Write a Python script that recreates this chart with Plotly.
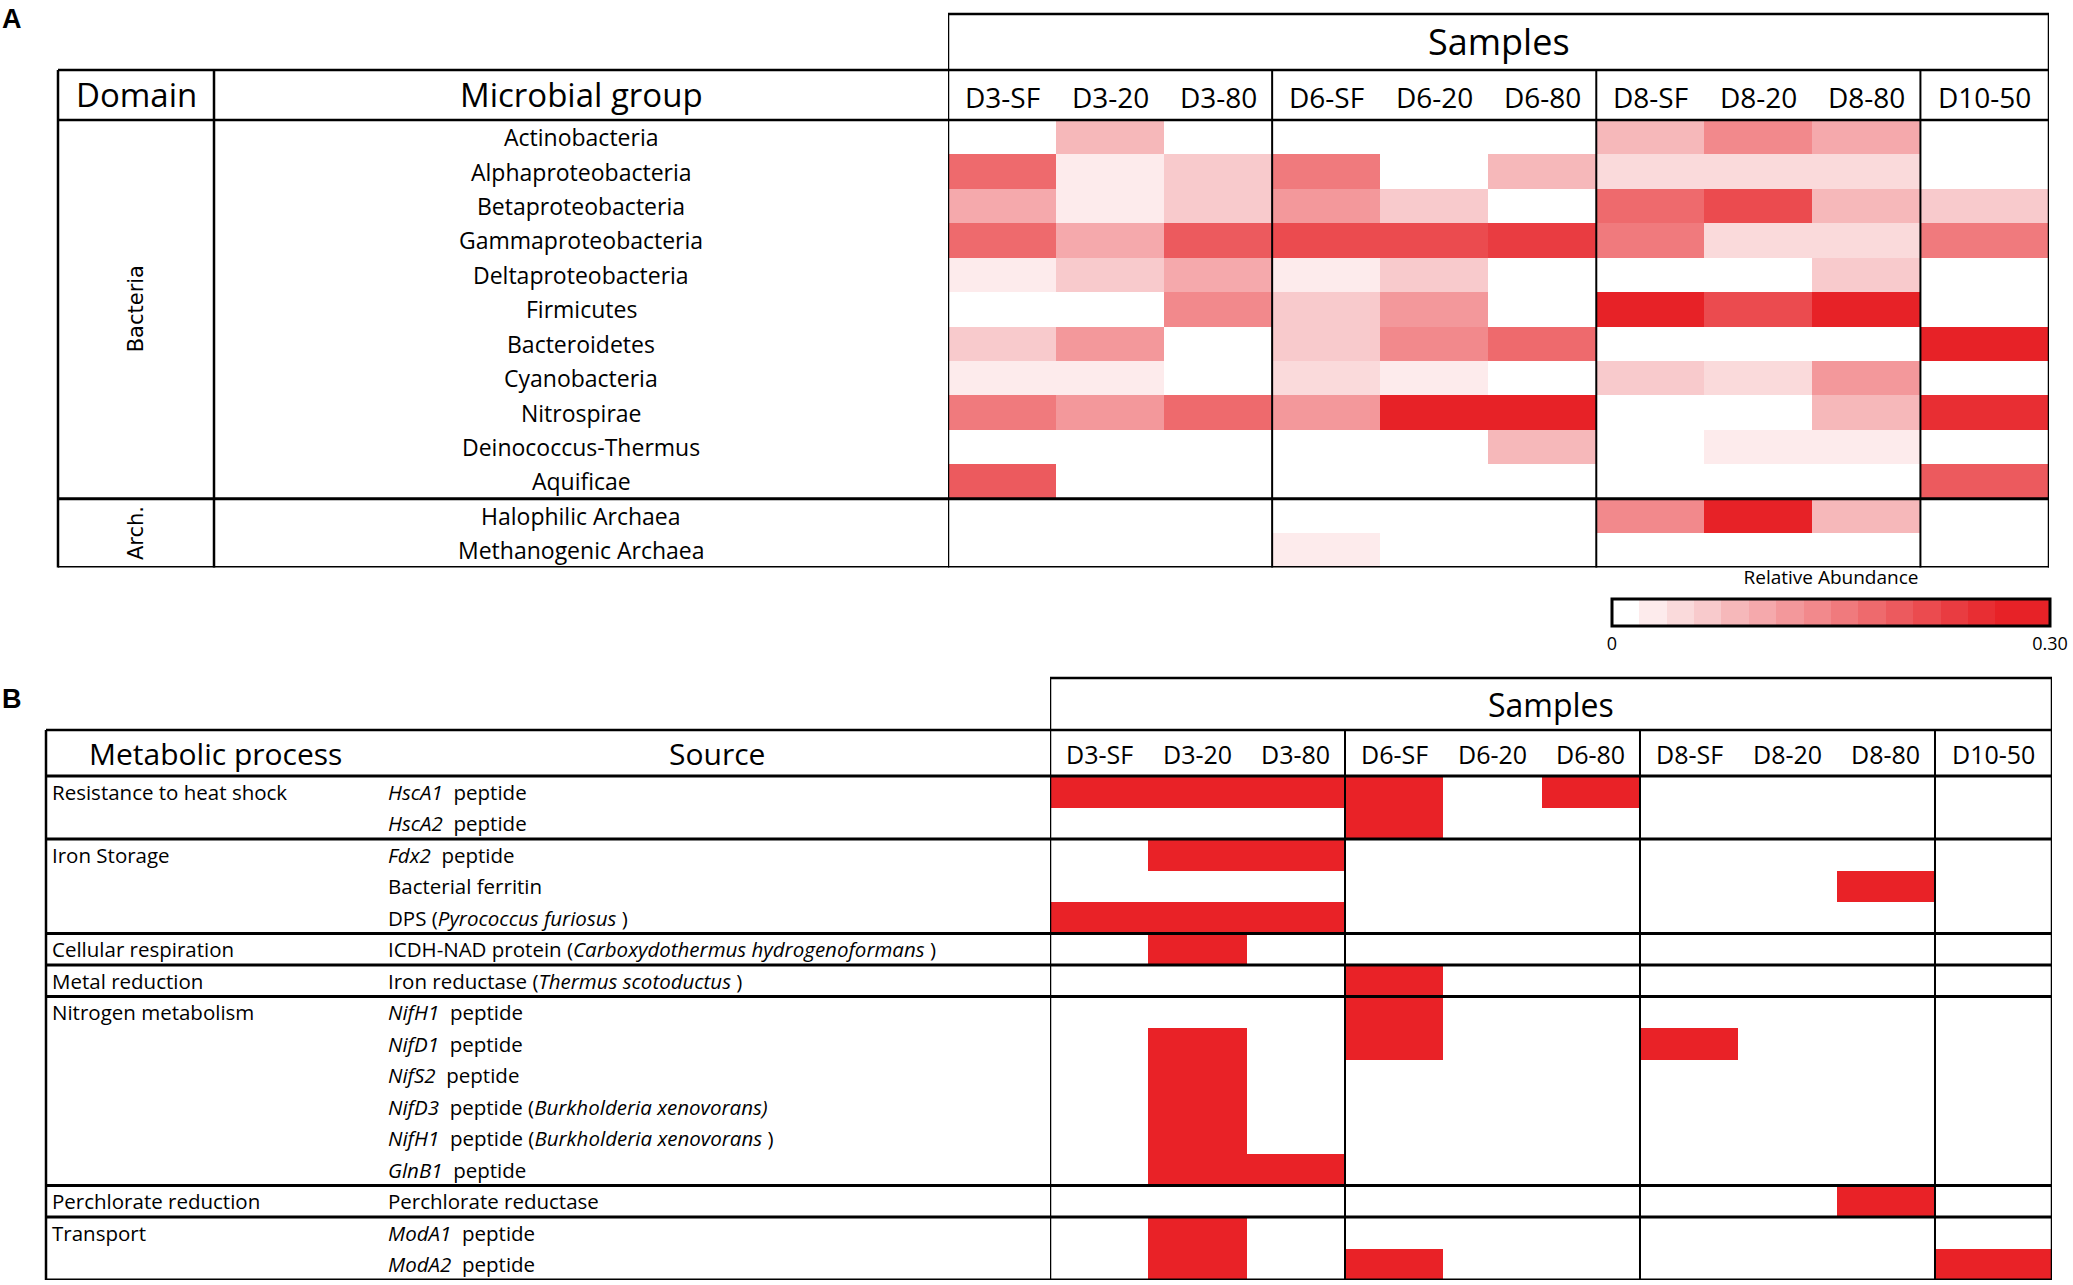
import plotly.graph_objects as go

W, H = 2073, 1285

# ---------------- Panel A data ----------------
samples = ["D3-SF", "D3-20", "D3-80", "D6-SF", "D6-20", "D6-80", "D8-SF", "D8-20", "D8-80", "D10-50"]

microbial_groups = ["Actinobacteria", "Alphaproteobacteria", "Betaproteobacteria", "Gammaproteobacteria",
                    "Deltaproteobacteria", "Firmicutes", "Bacteroidetes", "Cyanobacteria", "Nitrospirae",
                    "Deinococcus-Thermus", "Aquificae", "Halophilic Archaea", "Methanogenic Archaea"]
domains = ["Bacteria"] * 11 + ["Arch."] * 2

actinobacteria      = [0, 0.085, 0, 0, 0, 0, 0.085, 0.14, 0.10, 0]
alphaproteobacteria = [0.18, 0.03, 0.07, 0.16, 0, 0.085, 0.04, 0.045, 0.045, 0]
betaproteobacteria  = [0.10, 0.03, 0.07, 0.125, 0.07, 0, 0.18, 0.215, 0.085, 0.07]
gammaproteobacteria = [0.18, 0.10, 0.195, 0.21, 0.21, 0.23, 0.15, 0.045, 0.05, 0.165]
deltaproteobacteria = [0.035, 0.065, 0.10, 0.025, 0.065, 0, 0, 0, 0.065, 0]
firmicutes          = [0, 0, 0.14, 0.065, 0.115, 0, 0.28, 0.21, 0.28, 0]
bacteroidetes       = [0.065, 0.115, 0, 0.065, 0.14, 0.17, 0, 0, 0, 0.28]
cyanobacteria       = [0.025, 0.035, 0, 0.04, 0.025, 0, 0.06, 0.055, 0.12, 0]
nitrospirae         = [0.15, 0.12, 0.18, 0.12, 0.27, 0.27, 0, 0, 0.08, 0.255]
deinococcus_thermus = [0, 0, 0, 0, 0, 0.085, 0, 0.025, 0.025, 0]
aquificae           = [0.20, 0, 0, 0, 0, 0, 0, 0, 0, 0.195]
halophilic_archaea  = [0, 0, 0, 0, 0, 0, 0.145, 0.28, 0.085, 0]
methanogenic_archaea = [0, 0, 0, 0.03, 0, 0, 0, 0, 0, 0]

abundance = [actinobacteria, alphaproteobacteria, betaproteobacteria, gammaproteobacteria,
             deltaproteobacteria, firmicutes, bacteroidetes, cyanobacteria, nitrospirae,
             deinococcus_thermus, aquificae, halophilic_archaea, methanogenic_archaea]

abundance_min, abundance_max = 0, 0.30
colorbar_ticks = [0, 0.30]
colorbar_ticktext = ["0", "0.30"]

# ---------------- Panel B data ----------------
processes = ["Resistance to heat shock"] * 2 + ["Iron Storage"] * 3 + ["Cellular respiration"] + \
            ["Metal reduction"] + ["Nitrogen metabolism"] * 6 + ["Perchlorate reduction"] + ["Transport"] * 2
NB = "\u00a0"
sources = [f"<i>HscA1</i>{NB}{NB}peptide", f"<i>HscA2</i>{NB}{NB}peptide", f"<i>Fdx2</i>{NB}{NB}peptide",
           "Bacterial ferritin", f"DPS (<i>Pyrococcus furiosus</i>{NB})",
           f"ICDH-NAD protein (<i>Carboxydothermus hydrogenoformans</i>{NB})",
           f"Iron reductase (<i>Thermus scotoductus</i>{NB})",
           f"<i>NifH1</i>{NB}{NB}peptide", f"<i>NifD1</i>{NB}{NB}peptide", f"<i>NifS2</i>{NB}{NB}peptide",
           f"<i>NifD3</i>{NB}{NB}peptide (<i>Burkholderia xenovorans)</i>",
           f"<i>NifH1</i>{NB}{NB}peptide (<i>Burkholderia xenovorans</i>{NB})",
           f"<i>GlnB1</i>{NB}{NB}peptide", "Perchlorate reductase",
           f"<i>ModA1</i>{NB}{NB}peptide", f"<i>ModA2</i>{NB}{NB}peptide"]

hsca1          = [1, 1, 1, 1, 0, 1, 0, 0, 0, 0]
hsca2          = [0, 0, 0, 1, 0, 0, 0, 0, 0, 0]
fdx2           = [0, 1, 1, 0, 0, 0, 0, 0, 0, 0]
ferritin       = [0, 0, 0, 0, 0, 0, 0, 0, 1, 0]
dps            = [1, 1, 1, 0, 0, 0, 0, 0, 0, 0]
icdh_nad       = [0, 1, 0, 0, 0, 0, 0, 0, 0, 0]
iron_reductase = [0, 0, 0, 1, 0, 0, 0, 0, 0, 0]
nifh1          = [0, 0, 0, 1, 0, 0, 0, 0, 0, 0]
nifd1          = [0, 1, 0, 1, 0, 0, 1, 0, 0, 0]
nifs2          = [0, 1, 0, 0, 0, 0, 0, 0, 0, 0]
nifd3_bx       = [0, 1, 0, 0, 0, 0, 0, 0, 0, 0]
nifh1_bx       = [0, 1, 0, 0, 0, 0, 0, 0, 0, 0]
glnb1          = [0, 1, 1, 0, 0, 0, 0, 0, 0, 0]
perchlorate    = [0, 0, 0, 0, 0, 0, 0, 0, 1, 0]
moda1          = [0, 1, 0, 0, 0, 0, 0, 0, 0, 0]
moda2          = [0, 1, 0, 1, 0, 0, 0, 0, 0, 1]

presence = [hsca1, hsca2, fdx2, ferritin, dps, icdh_nad, iron_reductase, nifh1, nifd1, nifs2,
            nifd3_bx, nifh1_bx, glnb1, perchlorate, moda1, moda2]

# ---------------- Styles / layout constants ----------------
FONT = "Open Sans, Lato, sans-serif"
ROT_FONT = "DejaVu Sans, Verdana, sans-serif"
RED = "#E92227"
step_colors = ["#FFFFFF", "#FDEBEC", "#FADADB", "#F8CACC", "#F6B8BA", "#F5A9AC", "#F3989B", "#F2898C",
               "#F07A7D", "#EE6A6D", "#EC5A5E", "#EB4B4F", "#E93C41", "#E82E33", "#E72227", "#E72227"]
col_widths = [1] * 9 + [1.19]   # last sample column is drawn wider
group_breaks = [3, 6, 9]


def px(x):
    return x / W


def py(y):
    return 1 - y / H


edges = [0]
for w_ in col_widths:
    edges.append(edges[-1] + w_)
centers = [(edges[i] + edges[i + 1]) / 2 for i in range(len(samples))]

n = len(step_colors)
colorscale = []
for k, c in enumerate(step_colors):
    colorscale.append([k / n, c])
    colorscale.append([(k + 1) / n, c])

# pixel geometry
A_left, A_div, A_hm_left, A_hm_right = 58, 214, 948, 2049
A_top_box, A_head_top, A_head_bot, A_bot = 14, 70, 120, 567.5
B_left, B_src_x, B_proc_x, B_hm_left, B_hm_right = 46, 386, 50, 1050, 2052
B_top_box, B_head_top, B_head_bot, B_bot = 678, 730, 776, 1280

fig = go.Figure()

fig.add_trace(go.Heatmap(
    z=abundance, x=edges, y=list(range(len(microbial_groups))),
    zmin=abundance_min, zmax=abundance_max, colorscale=colorscale,
    xaxis="x", yaxis="y", hoverinfo="skip",
    colorbar=dict(orientation="h", x=px((1612 + 2050) / 2), xanchor="center",
                  y=py(573), yanchor="top", len=438 / W, lenmode="fraction",
                  thickness=27, xpad=0, ypad=0, outlinewidth=3, outlinecolor="black",
                  tickmode="array", tickvals=colorbar_ticks, ticktext=colorbar_ticktext,
                  ticks="", ticklen=0,
                  tickfont=dict(family=FONT, size=18, color="black"),
                  title=dict(text="Relative Abundance", side="top",
                             font=dict(family=FONT, size=19, color="black")))
))

fig.add_trace(go.Heatmap(
    z=presence, x=edges, y=list(range(len(sources))),
    zmin=0, zmax=1, colorscale=[[0, "#FFFFFF"], [1, RED]], showscale=False,
    xaxis="x2", yaxis="y2", hoverinfo="skip"
))

shapes = []


def line(x0, y0, x1, y1, xref="paper", yref="paper", w=2.5):
    shapes.append(dict(type="line", x0=x0, y0=y0, x1=x1, y1=y1, xref=xref, yref=yref,
                       line=dict(color="black", width=w), layer="above"))


# ---- Panel A grid ----
nA = len(microbial_groups)
line(px(A_hm_left), py(A_top_box), px(A_hm_right), py(A_top_box))
line(px(A_left), py(A_head_top), px(A_hm_right), py(A_head_top))
line(px(A_left), py(A_head_bot), px(A_hm_right), py(A_head_bot))
line(px(A_left), py(A_head_top), px(A_left), py(A_bot))
line(px(A_div), py(A_head_top), px(A_div), py(A_bot))
line(0, py(A_top_box), 0, py(A_bot), xref="x")
line(edges[-1], py(A_top_box), edges[-1], py(A_bot), xref="x")
for gb in group_breaks:
    line(edges[gb], py(A_head_top), edges[gb], py(A_bot), xref="x", w=2)
for i in range(1, nA):
    if domains[i] != domains[i - 1]:
        line(px(A_left), i - 0.5, px(A_hm_right), i - 0.5, yref="y", w=3)
line(px(A_left), nA - 0.5, px(A_hm_right), nA - 0.5, yref="y", w=3)

# ---- Panel B grid ----
nB = len(sources)
line(px(B_hm_left), py(B_top_box), px(B_hm_right), py(B_top_box))
line(px(B_left), py(B_head_top), px(B_hm_right), py(B_head_top))
line(px(B_left), py(B_head_bot), px(B_hm_right), py(B_head_bot), w=3)
line(px(B_left), py(B_head_top), px(B_left), py(B_bot))
line(0, py(B_top_box), 0, py(B_bot), xref="x2")
line(edges[-1], py(B_top_box), edges[-1], py(B_bot), xref="x2")
for gb in group_breaks:
    line(edges[gb], py(B_head_top), edges[gb], py(B_bot), xref="x2", w=2)
for i in range(1, nB):
    if processes[i] != processes[i - 1]:
        line(px(B_left), i - 0.5, px(B_hm_right), i - 0.5, yref="y2", w=3)
line(px(B_left), nB - 0.5, px(B_hm_right), nB - 0.5, yref="y2", w=3)

ann = []


def text(t, x, y, size, xref="paper", yref="paper", xanchor="center", family=FONT, angle=0, bold=False):
    ann.append(dict(text=f"<b>{t}</b>" if bold else t, x=x, y=y, xref=xref, yref=yref,
                    xanchor=xanchor, yanchor="middle", showarrow=False, textangle=angle,
                    font=dict(family=family, size=size, color="black")))


# Panel labels
text("A", px(0), py(19), 27, xanchor="left", family="Liberation Sans, Arial, sans-serif", bold=True)
text("B", px(0), py(699), 27, xanchor="left", family="Liberation Sans, Arial, sans-serif", bold=True)

# Panel A headers
text("Samples", px((A_hm_left + A_hm_right) / 2), py(42), 36)
text("Domain", px((A_left + A_div) / 2), py(95), 33)
text("Microbial group", px((A_div + A_hm_left) / 2), py(95), 33)
for s, c in zip(samples, centers):
    text(s, c, py(97), 28, xref="x")
for i, g in enumerate(microbial_groups):
    text(g, px((A_div + A_hm_left) / 2), i, 23, yref="y")
# domain labels (rotated), centered on their row span
start = 0
for i in range(1, nA + 1):
    if i == nA or domains[i] != domains[start]:
        text(domains[start], px((A_left + A_div) / 2), (start + i - 1) / 2, 21, yref="y",
             family=ROT_FONT, angle=-90)
        start = i

# Panel B headers
text("Samples", px((B_hm_left + B_hm_right) / 2), py(704), 32)
text("Metabolic process", px(215), py(753), 30)
text("Source", px(717), py(753), 30)
for s, c in zip(samples, centers):
    text(s, c, py(754), 25, xref="x2")
for i, s in enumerate(sources):
    text(s, px(B_src_x), i, 20.5, yref="y2", xanchor="left")
for i, p in enumerate(processes):
    if i == 0 or processes[i - 1] != p:
        text(p, px(B_proc_x), i, 20.5, yref="y2", xanchor="left")

fig.update_layout(
    width=W, height=H, margin=dict(l=0, r=0, t=0, b=0),
    paper_bgcolor="white", plot_bgcolor="white",
    xaxis=dict(domain=[px(A_hm_left), px(A_hm_right)], range=[0, edges[-1]], visible=False,
               anchor="y", fixedrange=True),
    yaxis=dict(domain=[py(A_bot), py(A_head_bot)], range=[nA - 0.5, -0.5], visible=False,
               anchor="x", fixedrange=True),
    xaxis2=dict(domain=[px(B_hm_left), px(B_hm_right)], range=[0, edges[-1]], visible=False,
                anchor="y2", fixedrange=True),
    yaxis2=dict(domain=[py(B_bot), py(B_head_bot)], range=[nB - 0.5, -0.5], visible=False,
                anchor="x2", fixedrange=True),
    shapes=shapes, annotations=ann, showlegend=False,
)

fig.write_html("out.html", config={"displayModeBar": False},
               post_script="document.body.style.margin='0px';document.body.style.padding='0px';"
                           "document.body.style.overflow='hidden';")
